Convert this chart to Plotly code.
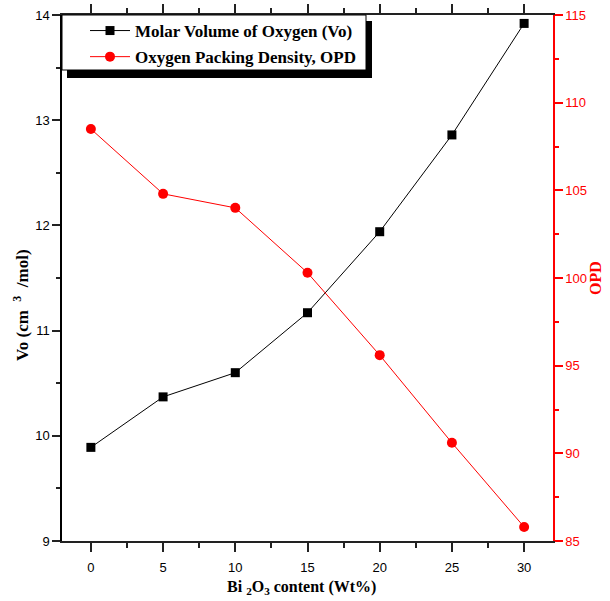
import plotly.graph_objects as go

bi2o3 = [0, 5, 10, 15, 20, 25, 30]
vo = [9.89, 10.37, 10.60, 11.17, 11.94, 12.86, 13.92]
opd = [108.5, 104.8, 104.0, 100.3, 95.6, 90.6, 85.8]

fig = go.Figure()
fig.add_trace(go.Scatter(x=bi2o3, y=vo, mode="lines+markers",
                         name="Molar Volume of Oxygen (Vo)", legendgroup="a",
                         line=dict(color="black", width=1),
                         marker=dict(symbol="square", size=9, color="black")))
fig.add_trace(go.Scatter(x=bi2o3, y=opd, mode="lines+markers",
                         name="Oxygen Packing Density, OPD", yaxis="y2", legendgroup="b",
                         line=dict(color="red", width=1),
                         marker=dict(symbol="circle", size=10, color="red")))

tickfont = dict(family="Liberation Sans, Arial", size=13, color="black")
titlefont = dict(family="Liberation Serif, Times New Roman", size=16, color="black", weight="bold")

L, R, T, B = 62, 57, 15, 60
PW, PH = 610 - L - R, 601 - T - B

def px_x(x):
    return (x - L) / PW

def px_y(y):
    return 1 - (y - T) / PH

NB = "\u00a0"

fig.update_layout(
    width=610, height=601,
    margin=dict(l=L, r=R, t=T, b=B),
    paper_bgcolor="white", plot_bgcolor="white",
    showlegend=True,
    legend=dict(x=px_x(85), y=px_y(13), xanchor="left", yanchor="top",
                bgcolor="rgba(0,0,0,0)", borderwidth=0,
                font=dict(family="Liberation Serif, Times New Roman", size=17, color="black", weight="bold"),
                itemwidth=40, tracegroupgap=1),
    xaxis=dict(range=[-2, 32], tickvals=[0, 5, 10, 15, 20, 25, 30], automargin=False,
               ticks="outside", ticklen=9, tickwidth=1.5, tickcolor="#222",
               ticklabelstandoff=5,
               showline=True, linecolor="#222", linewidth=1.5, mirror="ticks",
               showgrid=False, zeroline=False, tickfont=tickfont,
               minor=dict(dtick=2.5, ticks="outside", ticklen=5, tickcolor="#222", showgrid=False)),
    yaxis=dict(range=[9, 14], dtick=1, ticks="outside", ticklen=8, tickwidth=1.5, automargin=False,
               tickcolor="#222", showline=True, linecolor="black", linewidth=1.5,
               showgrid=False, zeroline=False, tickfont=tickfont,
               minor=dict(dtick=0.5, ticks="outside", ticklen=4, tickcolor="#222", showgrid=False)),
    yaxis2=dict(range=[85, 115], dtick=5, overlaying="y", side="right", automargin=False,
                ticks="outside", ticklen=8, tickwidth=1.5, tickcolor="red",
                showline=True, linecolor="red", linewidth=1.5,
                showgrid=False, zeroline=False,
                tickfont=dict(family="Liberation Sans, Arial", size=13, color="red"),
                minor=dict(dtick=2.5, ticks="outside", ticklen=4, tickcolor="red", showgrid=False),
                title=dict(text="OPD", font=dict(family="Liberation Serif, Times New Roman", size=16,
                                                 color="red", weight="bold"), standoff=3)),
)

# axis titles
fig.add_annotation(text="Bi <sub>2</sub>O<sub>3</sub> content (Wt%)", xref="paper", yref="paper",
                   x=px_x(301), y=px_y(587), showarrow=False, font=titlefont,
                   xanchor="center", yanchor="middle")
fig.add_annotation(text="Vo (cm " + NB + "<sup>3</sup>" + NB * 2 + "/mol)", xref="paper", yref="paper",
                   x=px_x(21), y=px_y(305), showarrow=False, textangle=-90,
                   font=dict(family="Liberation Serif, Times New Roman", size=17,
                             color="black", weight="bold"),
                   xanchor="center", yanchor="middle")

# legend drop shadow and box
fig.add_shape(type="rect", xref="paper", yref="paper",
              x0=px_x(67), x1=px_x(372), y0=px_y(78), y1=px_y(21),
              fillcolor="black", line=dict(width=0), layer="above")
fig.add_shape(type="rect", xref="paper", yref="paper",
              x0=px_x(62), x1=px_x(366), y0=px_y(70), y1=px_y(15),
              fillcolor="white", line=dict(width=1, color="black"), layer="above")

fig.write_html("out.html", config={"displayModeBar": False},
               post_script="document.body.style.margin='0';document.body.style.overflow='hidden';")
